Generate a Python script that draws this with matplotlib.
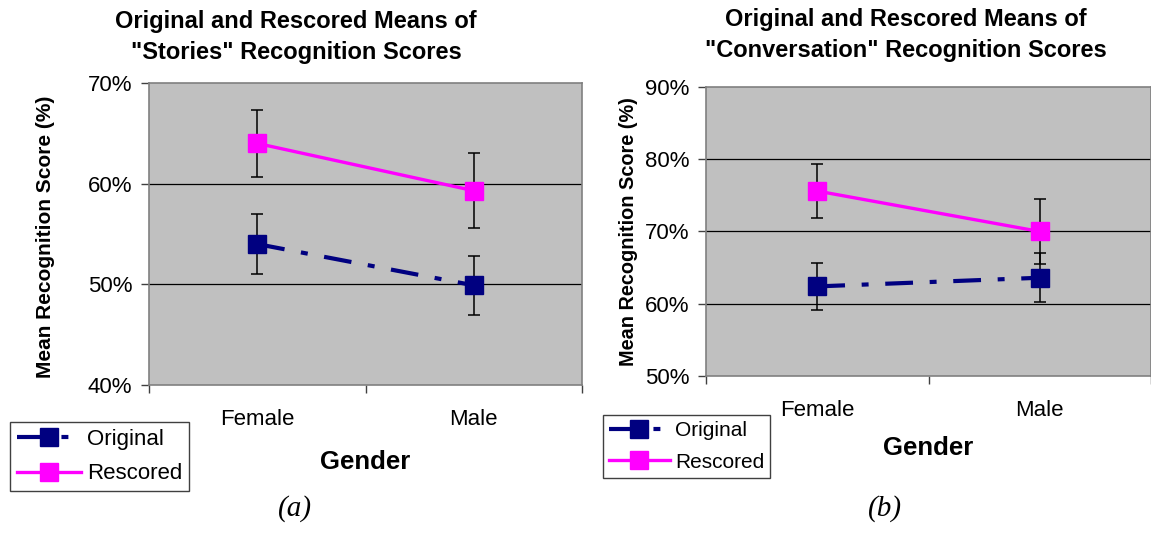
import matplotlib
matplotlib.use("Agg")
import matplotlib.pyplot as plt
from matplotlib.ticker import FixedLocator, NullFormatter, FuncFormatter

plt.rcParams['font.family'] = ['Liberation Sans', 'DejaVu Sans']
plt.rcParams['lines.scale_dashes'] = False

genders = ["Female", "Male"]

stories_original = [54.0, 49.9]
stories_original_err = [3.0, 2.9]
stories_rescored = [64.0, 59.3]
stories_rescored_err = [3.3, 3.7]

conv_original = [62.4, 63.6]
conv_original_err = [3.2, 3.4]
conv_rescored = [75.6, 70.0]
conv_rescored_err = [3.8, 4.5]

W, H = 1151, 536
fig = plt.figure(figsize=(W / 100, H / 100), dpi=100)


def px_box(x0, y0, x1, y1):
    return [x0 / W, 1 - y1 / H, (x1 - x0) / W, (y1 - y0) / H]


def draw_panel(ax, orig, orig_err, resc, resc_err, ylim, yticks, xlabelpad):
    x = list(range(len(genders)))
    ax.set_facecolor("#c0c0c0")
    for s in ax.spines.values():
        s.set_color("#808080")
        s.set_linewidth(1.2)
    for yv in yticks[1:-1]:
        ax.axhline(yv, color="black", lw=0.9, zorder=1)
    ax.errorbar(x, orig, yerr=orig_err, fmt="none", ecolor="black",
                elinewidth=1.1, capsize=4.5, capthick=1.1, zorder=2)
    ax.errorbar(x, resc, yerr=resc_err, fmt="none", ecolor="black",
                elinewidth=1.1, capsize=4.5, capthick=1.1, zorder=2)
    l1, = ax.plot(x, orig, color="#000080", lw=3.0, marker="s", markersize=12.5,
                  linestyle=(0, (20, 12, 5, 12)), label="Original", zorder=3)
    l2, = ax.plot(x, resc, color="#ff00ff", lw=2.4, marker="s", markersize=12.5,
                  label="Rescored", zorder=3)
    ax.set_xlim(-0.5, 1.5)
    ax.set_ylim(*ylim)
    ax.set_yticks(yticks)
    ax.yaxis.set_major_formatter(FuncFormatter(lambda v, p: f"{v:.0f}%"))
    ax.tick_params(axis="y", direction="out", length=6, width=1, color="#404040",
                   labelsize=16, pad=6)
    ax.set_xticks(x)
    ax.set_xticklabels(genders)
    ax.tick_params(axis="x", which="major", length=0, labelsize=16, pad=17)
    ax.xaxis.set_minor_locator(FixedLocator([-0.5, 0.5, 1.5]))
    ax.xaxis.set_minor_formatter(NullFormatter())
    ax.tick_params(axis="x", which="minor", direction="out", length=6, width=1,
                   color="#404040")
    ax.set_xlabel("Gender", fontsize=18.5, fontweight="bold", labelpad=xlabelpad)
    return l1, l2


ax1 = fig.add_axes(px_box(149, 83, 582, 385))
h1 = draw_panel(ax1, stories_original, stories_original_err,
                stories_rescored, stories_rescored_err, (40, 70), [40, 50, 60, 70], 15)

ax2 = fig.add_axes(px_box(706, 87, 1151, 376))
h2 = draw_panel(ax2, conv_original, conv_original_err,
                conv_rescored, conv_rescored_err, (50, 90), [50, 60, 70, 80, 90], 11)

fig.text(296 / W, 1 - 37 / H, "Original and Rescored Means of\n\"Stories\" Recognition Scores",
         ha="center", va="center", fontsize=17, fontweight="bold", linespacing=1.45)
fig.text(906 / W, 1 - 35 / H, "Original and Rescored Means of\n\"Conversation\" Recognition Scores",
         ha="center", va="center", fontsize=17, fontweight="bold", linespacing=1.45)

fig.text(46 / W, 1 - 237 / H, "Mean Recognition Score (%)", rotation=90,
         ha="center", va="center", fontsize=15, fontweight="bold")
fig.text(628 / W, 1 - 232 / H, "Mean Recognition Score (%)", rotation=90,
         ha="center", va="center", fontsize=14.3, fontweight="bold")

leg_kw = dict(loc="lower left", bbox_transform=fig.transFigure, borderaxespad=0,
              handletextpad=0.25, borderpad=0.3, fancybox=False,
              edgecolor="#404040", framealpha=1)
lg1 = ax1.legend(handles=list(h1), bbox_to_anchor=(10 / W, 1 - 491 / H),
                 fontsize=16, handlelength=2.9, labelspacing=0.62, **leg_kw)
lg2 = ax2.legend(handles=list(h2), bbox_to_anchor=(603 / W, 1 - 478 / H),
                 fontsize=15, handlelength=2.9, labelspacing=0.6, **leg_kw)
for lg in (lg1, lg2):
    lg.get_frame().set_linewidth(1.0)
    lg.set_in_layout(False)

fig.text(295 / W, 1 - 509 / H, "(a)", ha="center", va="center", fontsize=21,
         fontstyle="italic", family=["Liberation Serif", "DejaVu Serif"])
fig.text(885 / W, 1 - 509 / H, "(b)", ha="center", va="center", fontsize=21,
         fontstyle="italic", family=["Liberation Serif", "DejaVu Serif"])

fig.savefig("out.png", dpi=100)
